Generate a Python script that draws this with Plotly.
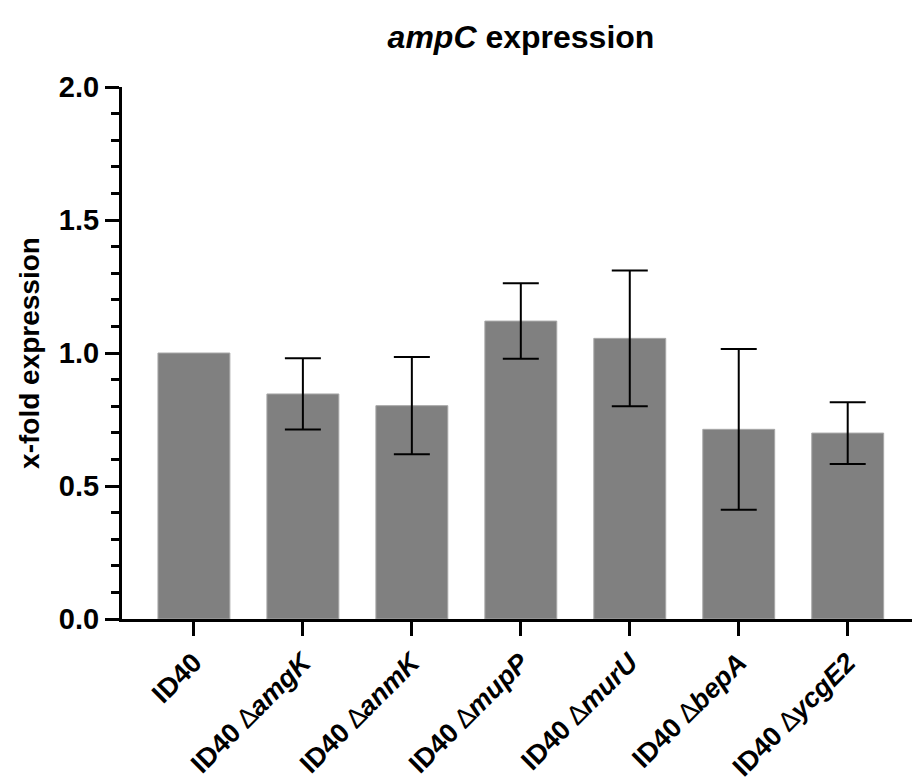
import plotly.graph_objects as go

strains = ["ID40", "amgK", "anmK", "mupP", "murU", "bepA", "ycgE2"]
values = [1.0, 0.846, 0.802, 1.120, 1.055, 0.713, 0.699]
errors = [None, 0.134, 0.183, 0.142, 0.255, 0.302, 0.116]
y_ticks = [0.0, 0.5, 1.0, 1.5, 2.0]

labels = []
for s in strains:
    if s == "ID40":
        labels.append("ID40")
    else:
        labels.append("ID40 <span style='font-weight:normal'>\u2206</span><i>" + s + "</i>")

font_family = "Liberation Sans, Arial, sans-serif"
xs = list(range(len(strains)))

fig = go.Figure()
fig.add_trace(go.Bar(
    x=xs,
    y=values,
    width=0.66,
    marker=dict(color="#808080", line=dict(color="#a8a8a8", width=1)),
))

# error bars only where an error value exists
ex = [x for x, e in zip(xs, errors) if e is not None]
ey = [v for v, e in zip(values, errors) if e is not None]
ee = [e for e in errors if e is not None]
fig.add_trace(go.Scatter(
    x=ex, y=ey, mode="markers",
    marker=dict(size=0.1, color="rgba(0,0,0,0)"),
    error_y=dict(type="data", array=ee, symmetric=True,
                 color="black", thickness=2, width=18),
    hoverinfo="skip",
))

fig.update_layout(
    width=912, height=783,
    margin=dict(l=122, r=0, t=87, b=164),
    plot_bgcolor="white", paper_bgcolor="white",
    showlegend=False,
    font=dict(family=font_family, color="black"),
    title=dict(text="<i>ampC</i> expression",
               font=dict(family=font_family, size=32, color="black", weight="bold"),
               x=521/912, xref="container", xanchor="center",
               y=1 - 37/783, yref="container", yanchor="middle"),
)

fig.update_xaxes(
    range=[-0.66, 6.59],
    tickmode="array",
    tickvals=xs,
    ticktext=labels,
    tickangle=-45,
    tickfont=dict(family=font_family, size=27, color="black", weight="bold"),
    showline=True, linecolor="black", linewidth=3,
    ticks="outside", ticklen=14, tickwidth=3, tickcolor="black",
    showgrid=False, zeroline=False,
)

fig.update_yaxes(
    range=[0, 2.0],
    tickmode="array",
    tickvals=y_ticks,
    ticktext=["%.1f" % v for v in y_ticks],
    tickfont=dict(family=font_family, size=29, color="black", weight="bold"),
    showline=True, linecolor="black", linewidth=3,
    ticks="outside", ticklen=14, tickwidth=3, tickcolor="black",
    minor=dict(dtick=0.1, ticks="outside", ticklen=8, tickwidth=3, tickcolor="black", showgrid=False),
    showgrid=False, zeroline=False,
    title=dict(text="x-fold expression",
               font=dict(family=font_family, size=28, color="black", weight="bold"),
               standoff=12),
)

fig.write_html("out.html")
